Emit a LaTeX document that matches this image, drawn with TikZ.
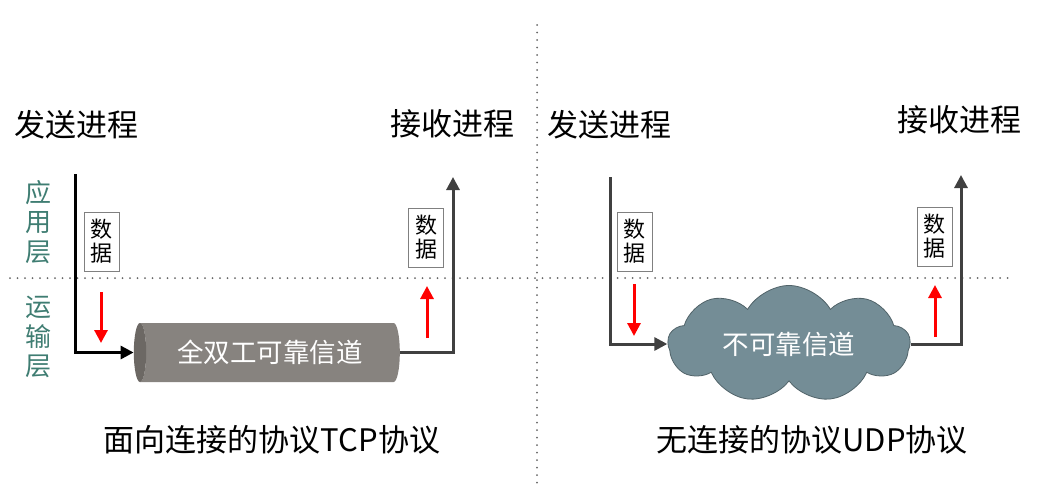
\documentclass[tikz,border=0pt]{standalone}
\usepackage{fontspec}
\setmainfont{Noto Sans CJK SC}
\usetikzlibrary{arrows.meta, shapes.geometric, shapes.symbols}
\definecolor{layergreen}{HTML}{3F7D72}
\definecolor{pipegray}{HTML}{87837F}
\definecolor{pipeend}{HTML}{6C6864}
\definecolor{cloudgray}{HTML}{748D96}
\definecolor{linegray}{HTML}{404040}
\definecolor{dotgray}{HTML}{666666}
\tikzset{
  proc/.style={font=\fontsize{31}{34}\selectfont, inner sep=0pt},
  layer/.style={font=\fontsize{26}{29.5}\selectfont, text=layergreen, align=center, inner sep=0pt},
  databox/.style={draw=gray, thin, fill=white, align=center, font=\fontsize{22}{24}\selectfont, minimum width=35pt, minimum height=59pt, inner sep=1pt},
  flow/.style={line width=3pt, draw=linegray, -{Triangle[length=13pt,width=13pt]}},
  updown/.style={line width=3pt, red, -{Triangle[length=13pt,width=13pt]}},
  sepline/.style={dotgray, line width=2pt, line cap=round, dash pattern=on 0pt off 7.5pt},
  caption/.style={font=\fontsize{31}{34}\selectfont, inner sep=0pt}
}
\begin{document}
\begin{tikzpicture}[x=1pt,y=-1pt]
\useasboundingbox (0,0) rectangle (1058,496);
\draw[sepline] (537,25) -- (537,490);
\draw[sepline] (10,278) -- (1008,278);

\node[layer] (appl) at (38,222) {应\\用\\层};
\node[layer] (tranl) at (38,337) {运\\输\\层};

\node[proc,anchor=west] (sendA) at (14,125) {发送进程};
\node[proc] (recvA) at (452,124) {接收进程};
\node[proc] (sendB) at (609,125) {发送进程};
\node[proc] (recvB) at (959,120) {接收进程};

\node[databox] (dataA) at (101.5,241.5) {数\\据};
\node[databox] (dataB) at (426,237.5) {数\\据};
\node[databox] (dataC) at (634.5,241.5) {数\\据};
\node[databox] (dataD) at (934.5,236.5) {数\\据};

\node[cylinder, shape border rotate=180, aspect=0.5, minimum width=59pt, minimum height=266pt,
  cylinder uses custom fill, cylinder body fill=pipegray, cylinder end fill=pipeend,
  text=white, font=\fontsize{26.5}{28}\selectfont, inner sep=0pt] (tcp) at (270,352.5) {全双工可靠信道};
\node[cloud, cloud puffs=9, cloud puff arc=120, aspect=2.2, minimum width=242pt, minimum height=112pt,
  fill=cloudgray, draw=cloudgray!70!black, thick, text=white, font=\fontsize{26.5}{28}\selectfont,
  inner sep=0pt] (udp) at (789,344) {不可靠信道};

\coordinate (srcA) at (75,174);
\coordinate (dstA) at (453,177);
\coordinate (srcB) at (610,177);
\coordinate (dstB) at (961,175);

\draw[flow,draw=black] (srcA) |- (tcp.west);
\draw[flow] (tcp.east) -| (dstA);
\draw[flow] (srcB) |- (udp.west);
\draw[flow] (udp.east) -| (dstB);

\draw[updown] (101,292) -- (101,343);
\draw[updown] (427,338) -- (427,286);
\draw[updown] (634,284) -- (634,336);
\draw[updown] (935,337) -- (935,285);

\node[caption] (tcpcap) at (272,440) {面向连接的协议TCP协议};
\node[caption] (udpcap) at (812,440) {无连接的协议UDP协议};
\end{tikzpicture}
\end{document}
